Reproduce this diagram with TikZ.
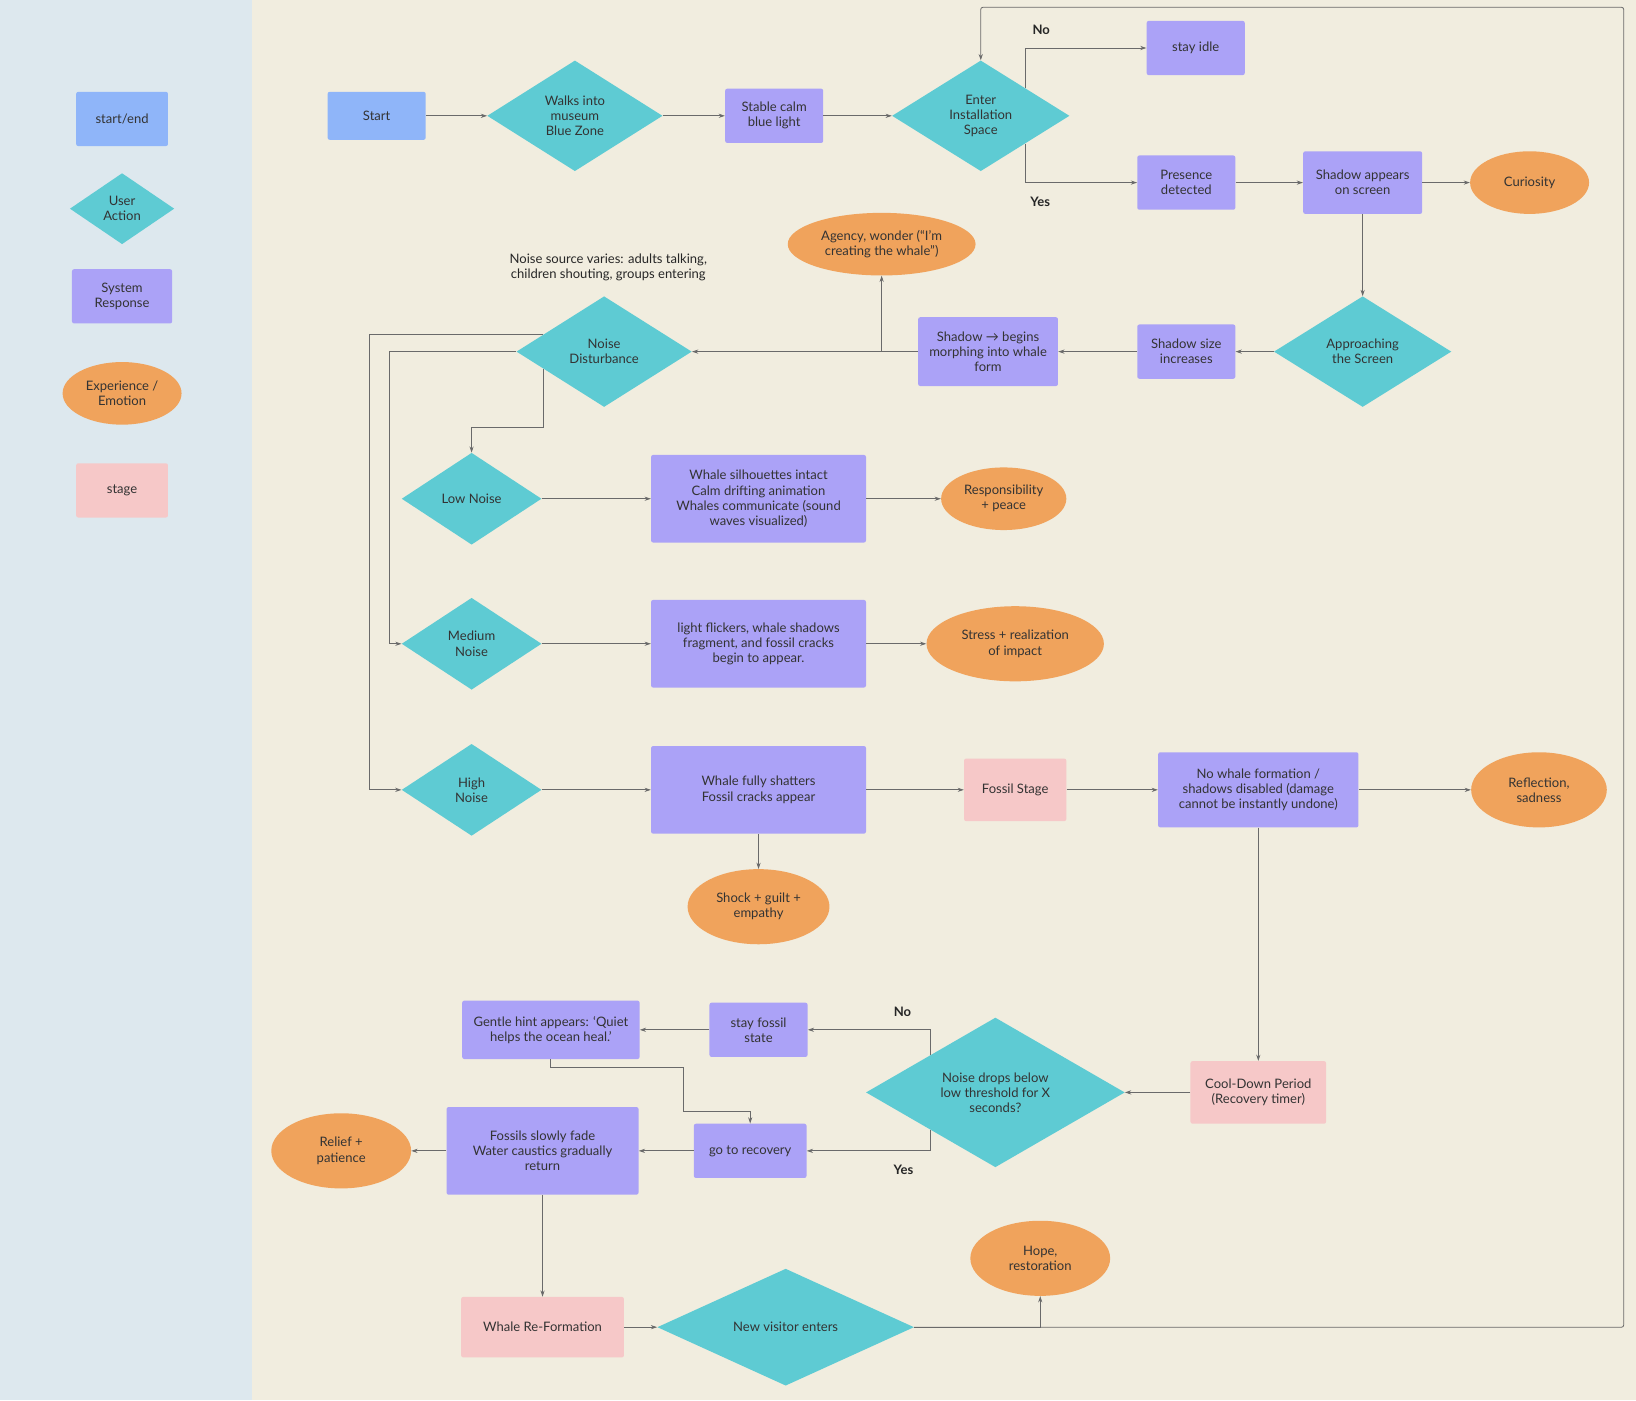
\documentclass[tikz,border=0pt]{standalone}
\usepackage{fontspec}
\setmainfont{Lato}
\usetikzlibrary{shapes.geometric,arrows.meta,calc}
\definecolor{panel}{HTML}{DDE8EE}
\definecolor{paper}{HTML}{F1EDDF}
\definecolor{termc}{HTML}{8FB5F9}
\definecolor{diac}{HTML}{5ECBD3}
\definecolor{sysc}{HTML}{ABA2F7}
\definecolor{emoc}{HTML}{F0A35C}
\definecolor{stgc}{HTML}{F6C8C8}
\definecolor{linec}{HTML}{6A6A6A}
\tikzset{
  base/.style={font=\fontsize{12.5}{14.5}\selectfont, text=black!80, align=center, inner sep=0pt},
  term/.style={base, rectangle, rounded corners=2pt, fill=termc},
  sys/.style={base, rectangle, rounded corners=2pt, fill=sysc},
  stg/.style={base, rectangle, rounded corners=2pt, fill=stgc},
  dia/.style={base, diamond, fill=diac},
  emo/.style={base, ellipse, fill=emoc},
  lbl/.style={font=\fontsize{12.5}{14.5}\selectfont\bfseries, text=black!85},
  arr/.style={draw=linec, line width=0.8pt, -{Stealth[length=6pt,width=4pt]}},
  ln/.style={draw=linec, line width=0.8pt}
}
\begin{document}
\begin{tikzpicture}[x=1pt, y=-1pt]
    \fill[paper] (0,0) rectangle (1568,1342);
    \fill[panel] (0,0) rectangle (242,1342);
    \useasboundingbox (0,0) rectangle (1568,1342);

    % legend
    \node[term, minimum width=88, minimum height=52] (lg1) at (117,114) {start/end};
    \node[dia, minimum width=100, minimum height=68] (lg2) at (117,200) {User\\Action};
    \node[sys, minimum width=96, minimum height=52] (lg3) at (117,284) {System\\Response};
    \node[emo, minimum width=114, minimum height=60] (lg4) at (117,377) {Experience /\\Emotion};
    \node[stg, minimum width=88, minimum height=52] (lg5) at (117,470) {stage};

    % entry
    \node[term, minimum width=94, minimum height=46] (start) at (361,111) {Start};
    \node[dia, minimum width=168, minimum height=106] (walk) at (551,111) {Walks into\\museum\\Blue Zone};
    \node[sys, minimum width=94, minimum height=52] (calm) at (742,111) {Stable calm\\blue light};
    \node[dia, minimum width=170, minimum height=106] (enter) at (940,111) {Enter\\Installation\\Space};
    \node[sys, minimum width=94, minimum height=52] (idle) at (1146,46) {stay idle};
    \node[sys, minimum width=94, minimum height=52] (pres) at (1137,175) {Presence\\detected};
    \node[sys, minimum width=114, minimum height=60] (appear) at (1306,175) {Shadow appears\\on screen};
    \node[emo, minimum width=114, minimum height=60] (curio) at (1466,175) {Curiosity};
    \node[lbl] (no1) at (998,29) {No};
    \node[lbl] (yes1) at (997,193) {Yes};

    % approach
    \node[dia, minimum width=170, minimum height=106] (appr) at (1306,337) {Approaching\\the Screen};
    \node[sys, minimum width=94, minimum height=52] (size) at (1137,337) {Shadow size\\increases};
    \node[sys, minimum width=134, minimum height=66] (morph) at (947,337) {Shadow → begins\\morphing into whale\\form};
    \node[emo, minimum width=180, minimum height=60] (agency) at (845,234) {Agency, wonder (“I’m\\creating the whale”)};
    \node[base, text=black!85] (src) at (583,256) {Noise source varies: adults talking,\\children shouting, groups entering};
    \node[dia, minimum width=168, minimum height=106] (noise) at (579,337) {Noise\\Disturbance};

    % noise levels
    \node[dia, minimum width=134, minimum height=88] (low) at (452,478) {Low Noise};
    \node[sys, minimum width=206, minimum height=84] (intact) at (727,478) {Whale silhouettes intact\\Calm drifting animation\\Whales communicate (sound\\waves visualized)};
    \node[emo, minimum width=120, minimum height=60] (peace) at (962,478) {Responsibility\\+ peace};
    \node[dia, minimum width=134, minimum height=88] (med) at (452,617) {Medium\\Noise};
    \node[sys, minimum width=206, minimum height=84] (flick) at (727,617) {light flickers, whale shadows\\fragment, and fossil cracks\\begin to appear.};
    \node[emo, minimum width=170, minimum height=72] (stress) at (973,617) {Stress + realization\\of impact};
    \node[dia, minimum width=134, minimum height=88] (high) at (452,757) {High\\Noise};
    \node[sys, minimum width=206, minimum height=84] (shatter) at (727,757) {Whale fully shatters\\Fossil cracks appear};
    \node[stg, minimum width=98, minimum height=60] (fossil) at (973,757) {Fossil Stage};
    \node[sys, minimum width=192, minimum height=72] (disabled) at (1206,757) {No whale formation /\\shadows disabled (damage\\cannot be instantly undone)};
    \node[emo, minimum width=130, minimum height=72] (reflect) at (1475,757) {Reflection,\\sadness};
    \node[emo, minimum width=136, minimum height=72] (shock) at (727,869) {Shock + guilt +\\empathy};

    % recovery
    \node[stg, minimum width=130, minimum height=60] (cool) at (1206,1047) {Cool-Down Period\\(Recovery timer)};
    \node[dia, minimum width=248, minimum height=112] (drops) at (954,1047) {Noise drops below\\low threshold for X\\seconds?};
    \node[sys, minimum width=94, minimum height=52] (stay) at (727,987) {stay fossil\\state};
    \node[sys, minimum width=170, minimum height=56] (hint) at (528,987) {Gentle hint appears: ‘Quiet\\helps the ocean heal.’};
    \node[sys, minimum width=108, minimum height=52] (goto) at (719,1103) {go to recovery};
    \node[sys, minimum width=184, minimum height=84] (fade) at (520,1103) {Fossils slowly fade\\Water caustics gradually\\return};
    \node[emo, minimum width=134, minimum height=72] (relief) at (327,1103) {Relief +\\patience};
    \node[lbl] (no2) at (865,970) {No};
    \node[lbl] (yes2) at (866,1121) {Yes};
    \node[stg, minimum width=156, minimum height=58] (reform) at (520,1272) {Whale Re-Formation};
    \node[dia, minimum width=246, minimum height=112] (visitor) at (753,1272) {New visitor enters};
    \node[emo, minimum width=134, minimum height=72] (hope) at (997,1206) {Hope,\\restoration};

    % connectors
    \draw[arr] (start) -- (walk);
    \draw[arr] (walk) -- (calm);
    \draw[arr] (calm) -- (enter);
    \draw[arr] ($(enter.north)!0.5!(enter.east)$) |- (idle.west);
    \draw[arr] ($(enter.south)!0.5!(enter.east)$) |- (pres.west);
    \draw[arr] (pres) -- (appear);
    \draw[arr] (appear) -- (curio);
    \draw[arr] (appear) -- (appr);
    \draw[arr] (appr) -- (size);
    \draw[arr] (size) -- (morph);
    \draw[arr] (morph) -- (noise);
    \draw[arr] (morph.west) -| (agency.south);
    \draw[arr] ($(noise.west)!0.31!(noise.north)$) -- ++(-167,0) |- (high.west);
    \draw[arr] (noise.west) -- ++(-122,0) |- (med.west);
    \draw[arr] ($(noise.west)!0.31!(noise.south)$) -- ++(0,56) -| (low.north);
    \draw[arr] (low) -- (intact);
    \draw[arr] (intact) -- (peace);
    \draw[arr] (med) -- (flick);
    \draw[arr] (flick) -- (stress);
    \draw[arr] (high) -- (shatter);
    \draw[arr] (shatter) -- (fossil);
    \draw[arr] (shatter) -- (shock);
    \draw[arr] (fossil) -- (disabled);
    \draw[arr] (disabled) -- (reflect);
    \draw[arr] (disabled) -- (cool);
    \draw[arr] (cool) -- (drops);
    \draw[arr] ($(drops.north)!0.5!(drops.west)$) |- (stay.east);
    \draw[arr] (stay) -- (hint);
    \draw[arr] (hint.south) -- ++(0,8) -| ++(127,42) -| (goto.north);
    \draw[arr] ($(drops.south)!0.5!(drops.west)$) |- (goto.east);
    \draw[arr] (goto) -- (fade);
    \draw[arr] (fade) -- (relief);
    \draw[arr] (fade) -- (reform);
    \draw[arr] (reform) -- (visitor);
    \draw[arr] (visitor.east) -| (hope.south);
    \draw[arr, rounded corners=2pt] (visitor.east) -- ++(680,0) |- ++(-40,-1265) -| (enter.north);
\end{tikzpicture}
\end{document}
